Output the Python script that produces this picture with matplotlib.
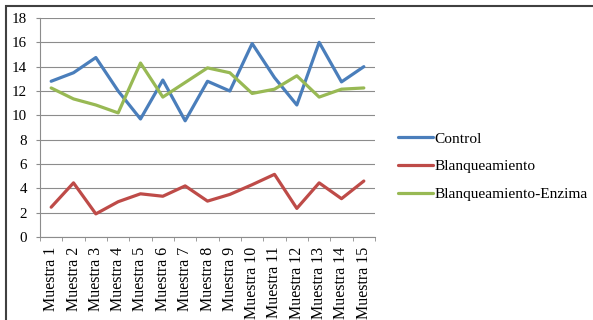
import matplotlib
matplotlib.use("Agg")
import matplotlib.pyplot as plt
from matplotlib.patches import Rectangle

plt.rcParams['font.family'] = ['Liberation Serif', 'DejaVu Serif']

# data
muestras = [f"Muestra {i}" for i in range(1, 16)]
control = [12.8, 13.5, 14.75, 12.0, 9.7, 12.9, 9.55, 12.8, 12.0,
           15.9, 13.1, 10.85, 16.0, 12.75, 14.0]
blanqueamiento = [2.45, 4.45, 1.9, 2.9, 3.55, 3.35, 4.2, 2.95, 3.5,
                  4.3, 5.15, 2.35, 4.45, 3.15, 4.6]
blanq_enzima = [12.25, 11.35, 10.85, 10.2, 14.3, 11.5, 12.7, 13.9, 13.5,
                11.8, 12.15, 13.25, 11.5, 12.15, 12.25]

series = [
    ("Control", control, "#4A7EBB"),
    ("Blanqueamiento", blanqueamiento, "#BE4B48"),
    ("Blanqueamiento-Enzima", blanq_enzima, "#98B954"),
]

fig = plt.figure(figsize=(5.93, 3.2), dpi=100)
ax = fig.add_axes([40 / 593, 1 - 237 / 320, 335 / 593, 219 / 320])

x = list(range(1, len(muestras) + 1))
for name, vals, col in series:
    ax.plot(x, vals, color=col, linewidth=2.3, label=name,
            solid_capstyle='round', solid_joinstyle='round')

ax.set_xlim(0.5, 15.5)
ax.set_ylim(0, 18)
ax.set_yticks(range(0, 19, 2))
ax.yaxis.grid(True, color='#8c8c8c', linewidth=0.8)
ax.set_axisbelow(True)

ax.set_xticks(x)
ax.set_xticklabels(muestras, rotation=90, fontsize=11.5)
ax.set_xticks([i + 0.5 for i in range(0, 16)], minor=True)
ax.tick_params(axis='x', which='major', length=0, pad=7)
ax.tick_params(axis='x', which='minor', length=3, color='#8c8c8c', direction='out')
ax.tick_params(axis='y', length=3, color='#8c8c8c', labelsize=10.8, pad=6.5)

for s in ('top', 'right'):
    ax.spines[s].set_visible(False)
for s in ('left', 'bottom'):
    ax.spines[s].set_color('#8c8c8c')
    ax.spines[s].set_linewidth(0.8)

leg = fig.legend(loc='upper left', bbox_to_anchor=(384 / 593, 1 - 118 / 320),
                 frameon=False, fontsize=11.1, handlelength=2.3,
                 handletextpad=0.05, labelspacing=0.9)

# chart area border
fig.patches.append(Rectangle((6 / 593, -0.05), 1.0, 1 - 6 / 320 + 0.05,
                             transform=fig.transFigure, fill=False,
                             edgecolor='#404040', linewidth=1.5))

fig.savefig("out.png", dpi=100)
